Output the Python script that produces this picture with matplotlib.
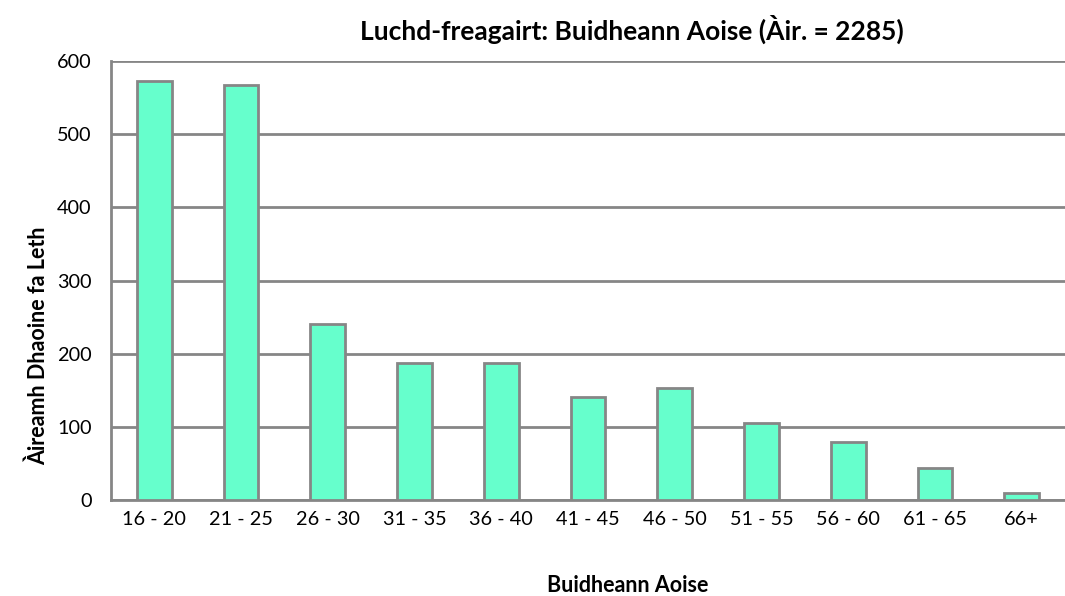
import matplotlib.pyplot as plt

groups = ['16 - 20', '21 - 25', '26 - 30', '31 - 35', '36 - 40', '41 - 45',
          '46 - 50', '51 - 55', '56 - 60', '61 - 65', '66+']
counts = [572, 567, 241, 187, 187, 141, 153, 105, 79, 44, 9]
yticks = [0, 100, 200, 300, 400, 500, 600]

plt.rcParams['font.family'] = ['Lato', 'DejaVu Sans']
grey = '#868686'

fig = plt.figure(figsize=(10.65, 5.96), dpi=100)
ax = fig.add_axes([111/1065, 1 - 500/596, 1 - 111/1065, 439/596])

x = range(len(groups))
ax.bar(x, counts, width=0.4, color='#66FFCC', edgecolor=grey, linewidth=2, zorder=3)

ax.set_xlim(-0.5, len(groups) - 0.5)
ax.set_ylim(0, 600)
ax.set_yticks(yticks)
ax.set_xticks(list(x))
ax.set_xticklabels(groups)
ax.yaxis.grid(True, color=grey, linewidth=2, zorder=0)
ax.set_axisbelow(True)
ax.tick_params(axis='both', length=0, labelsize=14.3, colors='black')
ax.tick_params(axis='x', pad=8)
ax.tick_params(axis='y', pad=14)

for s in ['top', 'right']:
    ax.spines[s].set_visible(False)
for s in ['left', 'bottom']:
    ax.spines[s].set_color(grey)
    ax.spines[s].set_linewidth(2)

fig.text(38/1065, 1 - 346/596, 'Àireamh Dhaoine fa Leth', rotation=90,
         ha='center', va='center', fontsize=15.5, fontweight='bold')
fig.text(628/1065, 1 - 585/596, 'Buidheann Aoise',
         ha='center', va='center', fontsize=15.5, fontweight='bold')
fig.text(632/1065, 1 - 29/596, 'Luchd-freagairt: Buidheann Aoise (Àir. = 2285)',
         ha='center', va='center', fontsize=19, fontweight='bold')

fig.savefig('out.png', dpi=100)
